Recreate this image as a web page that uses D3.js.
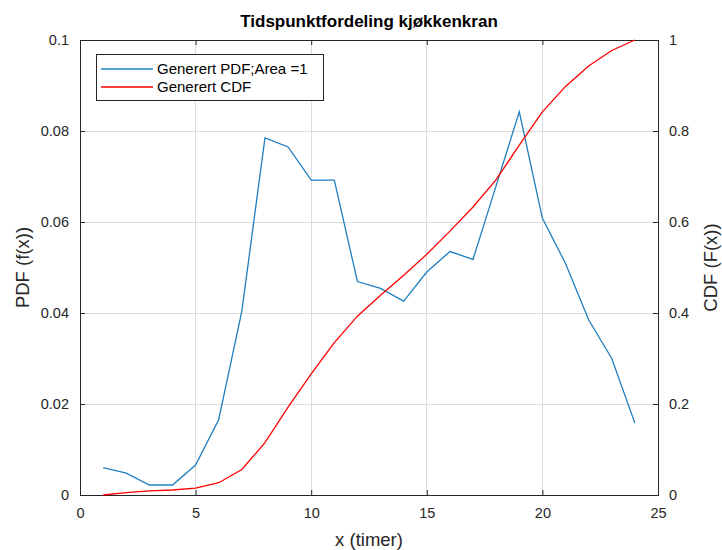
<!DOCTYPE html>
<html>
<head>
<meta charset="utf-8">
<script src="https://cdn.jsdelivr.net/npm/d3@7"></script>
<style>
  html, body { margin: 0; padding: 0; background: #fff; }
  svg { display: block; font-family: "Liberation Sans", Arial, Helvetica, sans-serif; }
</style>
</head>
<body>
<svg id="chart" width="722" height="550"></svg>
<script>
// Hours of the day
const hours = [1, 2, 3, 4, 5, 6, 7, 8, 9, 10, 11, 12, 13, 14, 15, 16, 17, 18, 19, 20, 21, 22, 23, 24];
// Generated PDF, area = 1
const pdfValues = [0.0060, 0.0048, 0.0022, 0.0022, 0.0066, 0.0166, 0.0404, 0.0785, 0.0765, 0.0692,
                   0.0692, 0.0469, 0.0454, 0.0426, 0.0490, 0.0535, 0.0518, 0.0680, 0.0842, 0.0608,
                   0.0509, 0.0385, 0.0300, 0.0158];
// Generated CDF
const cdfValues = [0.000, 0.005, 0.009, 0.011, 0.015, 0.027, 0.056, 0.115, 0.193, 0.266,
                   0.335, 0.393, 0.439, 0.483, 0.529, 0.580, 0.633, 0.693, 0.769, 0.842,
                   0.898, 0.943, 0.977, 1.000];
const xTicks = [0, 5, 10, 15, 20, 25];
const leftTicks = [0, 0.02, 0.04, 0.06, 0.08, 0.1];
const rightTicks = [0, 0.2, 0.4, 0.6, 0.8, 1];
const seriesNames = ["Generert PDF;Area =1", "Generert CDF"];

const axisColor = "#262626";
const gridColor = "#dcdcdc";
const pdfColor = "#1f7fc0";
const cdfColor = "#FF0000";

const margin = { left: 80, right: 64, top: 40, bottom: 55 };
const W = 722, H = 550;
const iw = W - margin.left - margin.right;
const ih = H - margin.top - margin.bottom;

const svg = d3.select("#chart");
const g = svg.append("g").attr("transform", `translate(${margin.left},${margin.top})`);

const x = d3.scaleLinear().domain([0, 25]).range([0, iw]);
const yL = d3.scaleLinear().domain([0, 0.1]).range([ih, 0]);
const yR = d3.scaleLinear().domain([0, 1]).range([ih, 0]);

// grid
g.append("g").selectAll("line").data(xTicks.slice(1, -1)).join("line")
  .attr("x1", d => x(d)).attr("x2", d => x(d)).attr("y1", 0).attr("y2", ih)
  .attr("stroke", gridColor).attr("stroke-width", 1).attr("shape-rendering", "crispEdges");
g.append("g").selectAll("line").data(leftTicks.slice(1, -1)).join("line")
  .attr("y1", d => yL(d)).attr("y2", d => yL(d)).attr("x1", 0).attr("x2", iw)
  .attr("stroke", gridColor).attr("stroke-width", 1).attr("shape-rendering", "crispEdges");

// axes with inward ticks
function styleAxis(sel) {
  sel.select(".domain").attr("stroke", axisColor);
  sel.selectAll(".tick line").attr("stroke", axisColor);
  sel.selectAll(".tick text").attr("fill", axisColor).style("font-size", "14.5px");
}
const xAxis = g.append("g").attr("transform", `translate(0,${ih})`)
  .call(d3.axisBottom(x).tickValues(xTicks).tickSizeInner(-5).tickSizeOuter(0).tickPadding(13).tickFormat(d3.format("d")));
styleAxis(xAxis);
const xTop = g.append("g")
  .call(d3.axisTop(x).tickValues(xTicks).tickSizeInner(-5).tickSizeOuter(0).tickFormat(""));
styleAxis(xTop);
const yAxisL = g.append("g")
  .call(d3.axisLeft(yL).tickValues(leftTicks).tickSizeInner(-5).tickSizeOuter(0).tickPadding(11).tickFormat(d => d === 0 ? "0" : d3.format("~g")(d)));
styleAxis(yAxisL);
const yAxisR = g.append("g").attr("transform", `translate(${iw},0)`)
  .call(d3.axisRight(yR).tickValues(rightTicks).tickSizeInner(-5).tickSizeOuter(0).tickPadding(11).tickFormat(d3.format("~g")));
styleAxis(yAxisR);
g.selectAll(".domain").attr("shape-rendering", "crispEdges");

// series
const pdfLine = d3.line().x((d, i) => x(hours[i])).y(d => yL(d));
const cdfLine = d3.line().x((d, i) => x(hours[i])).y(d => yR(d));
g.append("path").datum(pdfValues).attr("d", pdfLine)
  .attr("fill", "none").attr("stroke", pdfColor).attr("stroke-width", 1.3);
g.append("path").datum(cdfValues).attr("d", cdfLine)
  .attr("fill", "none").attr("stroke", cdfColor).attr("stroke-width", 1.3);

// title and axis labels
svg.append("text").attr("x", margin.left + iw / 2).attr("y", 27)
  .attr("text-anchor", "middle").attr("fill", "#000").style("font-size", "17px").style("font-weight", "bold")
  .text("Tidspunktfordeling kjøkkenkran");
svg.append("text").attr("x", margin.left + iw / 2).attr("y", 546)
  .attr("text-anchor", "middle").attr("fill", axisColor).style("font-size", "18.5px")
  .text("x (timer)");
svg.append("text").attr("transform", `translate(29,${margin.top + ih / 2}) rotate(-90)`)
  .attr("text-anchor", "middle").attr("fill", axisColor).style("font-size", "18.5px")
  .text("PDF (f(x))");
svg.append("text").attr("transform", `translate(717,${margin.top + ih / 2}) rotate(-90)`)
  .attr("text-anchor", "middle").attr("fill", axisColor).style("font-size", "18.5px")
  .text("CDF (F(x))");

// legend
const legend = svg.append("g").attr("transform", "translate(96,54)");
legend.append("rect").attr("x", 0).attr("y", 0).attr("width", 227).attr("height", 46)
  .attr("fill", "#fff").attr("stroke", axisColor).attr("stroke-width", 1).attr("shape-rendering", "crispEdges");
const legColors = [pdfColor, cdfColor];
seriesNames.forEach((name, i) => {
  const yy = 15 + i * 18;
  legend.append("line").attr("x1", 5).attr("x2", 57).attr("y1", yy).attr("y2", yy)
    .attr("stroke", legColors[i]).attr("stroke-width", 1.3);
  legend.append("text").attr("x", 61).attr("y", yy + 5).attr("fill", "#000")
    .style("font-size", "15px").text(name);
});
</script>
</body>
</html>
